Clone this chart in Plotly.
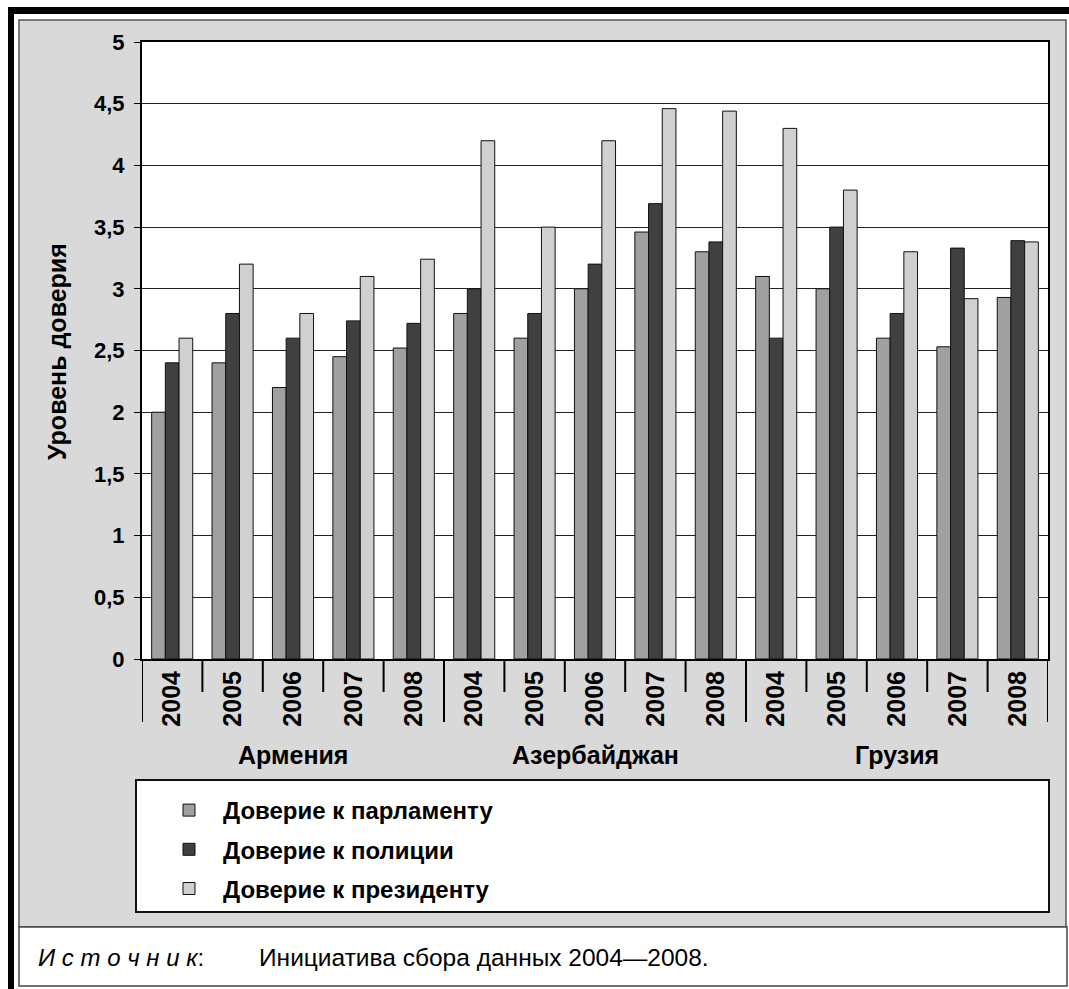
import plotly.graph_objects as go

# ---- data ----
countries = ["Армения", "Азербайджан", "Грузия"]
years = ["2004", "2005", "2006", "2007", "2008"]
parliament = [2.0, 2.4, 2.2, 2.45, 2.52, 2.8, 2.6, 3.0, 3.46, 3.3, 3.1, 3.0, 2.6, 2.53, 2.93]
police = [2.4, 2.8, 2.6, 2.74, 2.72, 3.0, 2.8, 3.2, 3.69, 3.38, 2.6, 3.5, 2.8, 3.33, 3.39]
president = [2.6, 3.2, 2.8, 3.1, 3.24, 4.2, 3.5, 4.2, 4.46, 4.44, 4.3, 3.8, 3.3, 2.92, 3.38]
series_names = ["Доверие к парламенту", "Доверие к полиции", "Доверие к президенту"]
series_colors = ["#a0a0a0", "#404040", "#d0d0d0"]
y_title = "Уровень доверия"
source_label = "И с т о ч н и к"
source_text = "Инициатива сбора данных 2004—2008."

W, H = 1069, 989
PL, PR, PT, PB = 142, 1048, 42, 659  # plot area in px
FONT = "Liberation Sans, Arial, sans-serif"

def px_x(p):
    return (p - PL) / (PR - PL)

def px_y(p):
    return (PB - p) / (PB - PT)

n_years = len(years)
x_idx = list(range(len(countries) * n_years))
tick_text = [years[i % n_years] for i in x_idx]

fig = go.Figure()
for name, vals, col in zip(series_names, [parliament, police, president], series_colors):
    fig.add_trace(go.Bar(
        x=x_idx, y=vals, name=name, legendgroup=name,
        marker=dict(color=col, line=dict(color="#111111", width=1)),
    ))

shapes = []
# grey panel
shapes.append(dict(type="rect", xref="paper", yref="paper", layer="below",
                   x0=px_x(19), x1=px_x(1066), y0=px_y(927), y1=px_y(20),
                   fillcolor="#d9d9d9", line=dict(color="#555555", width=1.5)))
# white plot area
shapes.append(dict(type="rect", xref="paper", yref="paper", layer="below",
                   x0=0, x1=1, y0=0, y1=1, fillcolor="white", line=dict(width=0)))
# legend box
shapes.append(dict(type="rect", xref="paper", yref="paper", layer="below",
                   x0=px_x(136), x1=px_x(1049), y0=px_y(912), y1=px_y(780),
                   fillcolor="white", line=dict(color="#111111", width=2)))
# source box
shapes.append(dict(type="rect", xref="paper", yref="paper", layer="below",
                   x0=px_x(19), x1=px_x(1067), y0=px_y(986), y1=px_y(927),
                   fillcolor="white", line=dict(color="#444444", width=1.5)))
# thick black frame (top and left)
shapes.append(dict(type="rect", xref="paper", yref="paper", layer="above",
                   x0=px_x(8), x1=px_x(1069), y0=px_y(14), y1=px_y(7),
                   fillcolor="black", line=dict(width=0)))
shapes.append(dict(type="rect", xref="paper", yref="paper", layer="above",
                   x0=px_x(8), x1=px_x(14), y0=px_y(989), y1=px_y(7),
                   fillcolor="black", line=dict(width=0)))
# category separators below x axis
short_len = px_y(692)
long_len = px_y(722)
for b in range(len(x_idx) + 1):
    xb = b - 0.5
    is_group = (b % n_years == 0)
    shapes.append(dict(type="line", xref="x", yref="paper", x0=xb, x1=xb,
                       y0=0, y1=long_len if is_group else short_len,
                       line=dict(color="black", width=2)))

annotations = []
for gi, c in enumerate(countries):
    center = gi * n_years + (n_years - 1) / 2
    annotations.append(dict(x=center, xref="x", y=px_y(755), yref="paper",
                            text="<b>%s</b>" % c, showarrow=False,
                            font=dict(family=FONT, size=25, color="black"),
                            xanchor="center", yanchor="middle"))
annotations.append(dict(x=px_x(57), xref="paper", y=px_y(352), yref="paper",
                        text="<b>%s</b>" % y_title, textangle=-90, showarrow=False,
                        font=dict(family=FONT, size=25, color="black"),
                        xanchor="center", yanchor="middle"))
annotations.append(dict(x=px_x(36), xref="paper", y=px_y(957), yref="paper",
                        text="<i>%s</i>:" % source_label, showarrow=False,
                        font=dict(family=FONT, size=24, color="black"),
                        xanchor="left", yanchor="middle"))
annotations.append(dict(x=px_x(257), xref="paper", y=px_y(957), yref="paper",
                        text=source_text, showarrow=False,
                        font=dict(family=FONT, size=24.5, color="black"),
                        xanchor="left", yanchor="middle"))

fig.update_layout(
    width=W, height=H,
    margin=dict(l=PL, r=W - PR, t=PT, b=H - PB, pad=0),
    paper_bgcolor="white", plot_bgcolor="rgba(0,0,0,0)",
    separators=", ",
    barmode="group", bargap=0.32, bargroupgap=0,
    font=dict(family=FONT, color="black"),
    shapes=shapes, annotations=annotations,
    showlegend=True,
    legend=dict(x=px_x(155), y=px_y(788), xanchor="left", yanchor="top",
                bgcolor="rgba(0,0,0,0)", borderwidth=0,
                font=dict(family=FONT, size=24, color="black", weight="bold"),
                tracegroupgap=5, itemwidth=58, traceorder="grouped"),
)
fig.update_xaxes(range=[-0.5, len(x_idx) - 0.5], tickmode="array",
                 tickvals=x_idx, ticktext=tick_text, tickangle=-90,
                 ticks="", showgrid=False, showline=True, linecolor="black",
                 linewidth=2, mirror=True, zeroline=False,
                 tickfont=dict(family=FONT, size=25, color="black", weight="bold"),
                 ticklabelstandoff=0)
fig.update_yaxes(range=[0, 5], dtick=0.5, tick0=0, ticks="outside", ticklen=6,
                 tickcolor="black", tickwidth=1, showgrid=True, gridcolor="#222222",
                 gridwidth=1.2, showline=True, linecolor="black", linewidth=2,
                 mirror=True, zeroline=False,
                 tickfont=dict(family=FONT, size=22, color="black", weight="bold"),
                 ticklabelstandoff=5)

fig.write_html("out.html", config={"displayModeBar": False},
               post_script="document.body.style.margin='0';document.body.style.overflow='hidden';")
